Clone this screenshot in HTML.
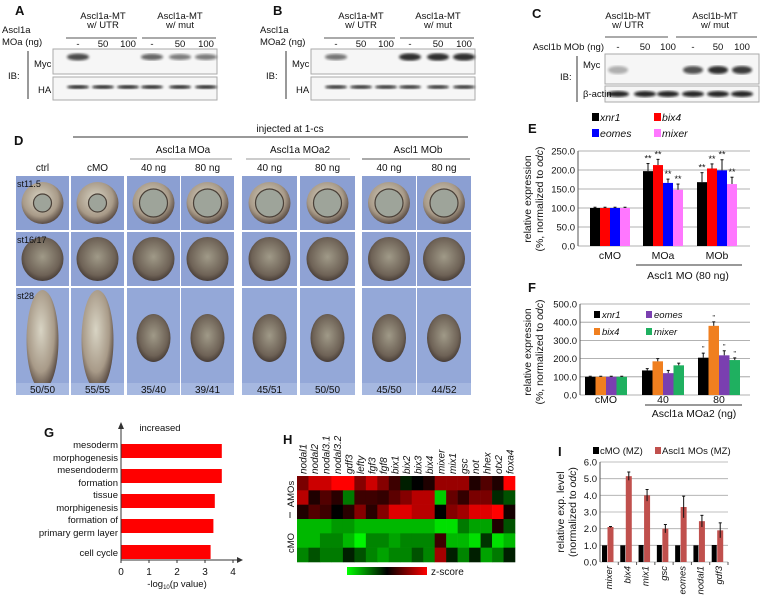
<!DOCTYPE html>
<html><head><meta charset="utf-8"><style>
body{margin:0;background:#fff;width:769px;height:596px;overflow:hidden}
svg{font-family:"Liberation Sans",sans-serif;display:block}
text{fill:#111}
</style></head><body>
<svg id="fig" width="769" height="596" viewBox="0 0 769 596" xmlns="http://www.w3.org/2000/svg">
<defs>
<radialGradient id="egg1" cx="45%" cy="40%" r="60%"><stop offset="0" stop-color="#d8d4c4"/><stop offset="0.7" stop-color="#a89a88"/><stop offset="1" stop-color="#5a4c44"/></radialGradient>
<radialGradient id="egg2" cx="50%" cy="45%" r="60%"><stop offset="0" stop-color="#a09a88"/><stop offset="0.7" stop-color="#6e6256"/><stop offset="1" stop-color="#3a302c"/></radialGradient>
<linearGradient id="zbar" x1="0" x2="1"><stop offset="0" stop-color="#00ff00"/><stop offset="0.5" stop-color="#000"/><stop offset="1" stop-color="#ff0000"/></linearGradient>
<filter id="blur"><feGaussianBlur stdDeviation="1.2"/></filter>
</defs>
<g id="blots"></g>
<g id="panelD"></g>
<g id="panelE"></g>
<g id="panelF"></g>
<g id="panelG"></g>
<g id="panelH"></g>
<g id="panelI"></g>
</svg>
<script>
// ---- data ----
const eCategories = ["cMO","MOa","MOb"];
const eXnr1 = [100,197,168];
const eBix4 = [100,213,204];
const eEomes = [100,166,199];
const eMixer = [100,148,163];
const eErr = [[2,20,25],[2,15,12],[2,10,28],[2,15,18]];
const eTicks = [0,50,100,150,200,250];

const fCategories = ["cMO","40","80"];
const fXnr1 = [100,135,205];
const fBix4 = [100,185,380];
const fEomes = [100,120,218];
const fMixer = [100,163,192];
const fErr = [[3,10,25],[3,15,22],[3,15,25],[3,12,12]];
const fTicks = [0,100,200,300,400,500];

const gTerms = [["mesoderm","morphogenesis"],["mesendoderm","formation"],["tissue","morphigenesis"],["formation of","primary germ layer"],["cell cycle"]];
const gValues = [3.6,3.6,3.35,3.3,3.2];
const gTicks = [0,1,2,3,4];

const hGenes = ["nodal1","nodal2","nodal3.1","nodal3.2","gdf3","lefty","fgf3","fgf8","bix1","bix2","bix3","bix4","mixer","mix1","gsc","not","hhex","otx2","foxa4"];
const hRow1 = [1.2,2,2,2.5,2.5,1.3,2,1.3,0.6,-0.3,0,0.3,1.5,1.5,1.5,0.3,0.8,0.3,2.5];
const hRow2 = [1.8,0.3,0.8,0.4,-1.2,0.6,0.6,0.5,0.9,1.3,1.8,1.8,-2,1.0,0.5,1.2,1.2,-0.4,-0.8];
const hRow3 = [0.3,0.8,0.6,0,0.4,1.3,0.4,1.3,2.2,2.2,1.8,1.8,0,1.3,1.6,2.2,2.2,2.5,0.2];
const hRow4 = [-1.8,-1.8,-1.8,-1.5,-1.5,-1.8,-1.8,-1.8,-1.8,-1.8,-1.8,-1.8,-2.2,-2.2,-1.2,-1.6,-1.6,0.3,-0.8];
const hRow5 = [-1.8,-1.8,-1.3,-1.3,-1.8,-2.4,-1.3,-1.3,-1.6,-1.3,-1.3,-1.3,0.6,-1.8,-1.8,-2.2,-0.5,-2.2,-1.8];
const hRow6 = [-1.3,-0.8,-1.2,-1.2,-0.3,-0.8,-1.3,-1.6,-1.3,-1.3,-0.8,-1.3,1.6,-0.3,-1.3,-0.3,-1.6,-1.2,-0.3];

const iCategories = ["mixer","bix4","mix1","gsc","eomes","nodal1","gdf3"];
const iCmo = [1,1,1.02,1.02,1,1,1.02];
const iAmo = [2.1,5.15,4.0,2.0,3.3,2.45,1.9];
const iErr = [0.03,0.25,0.35,0.25,0.65,0.35,0.45];
const iTicks = [0,1,2,3,4,5,6];

// ---- helpers ----
const NS="http://www.w3.org/2000/svg";
function mk(parent,tag,attrs,txt){const e=document.createElementNS(NS,tag);for(const k in attrs)e.setAttribute(k,attrs[k]);if(txt!==undefined)e.textContent=txt;parent.appendChild(e);return e;}
function T(p,x,y,s,size,anchor,extra){const e=mk(p,'text',Object.assign({x:x,y:y,'font-size':size||10,'text-anchor':anchor||'start'},extra||{}),s);return e;}
function L(p,x1,y1,x2,y2,c,w){const e=mk(p,'line',{x1:x1,y1:y1,x2:x2,y2:y2,stroke:c||'#333','stroke-width':w||1});return e;}
function R(p,x,y,w,h,f,extra){const e=mk(p,'rect',Object.assign({x:x,y:y,width:w,height:h,fill:f},extra||{}));return e;}

// ---- blots ----
(function(){
 const g=document.getElementById('blots');
 function blot(ox,letter,hdr1,moLabel,mycI,haI,lanes){
  T(g,ox+15,15,letter,13,'start',{'font-weight':'bold'});
  T(g,ox+103,19,hdr1+'-MT',9.5,'middle');T(g,ox+103,28,'w/ UTR',9.5,'middle');
  T(g,ox+180,19,hdr1+'-MT',9.5,'middle');T(g,ox+180,28,'w/ mut',9.5,'middle');
  L(g,ox+66,38,ox+137,38,'#555');L(g,ox+142,38,ox+216,38,'#555');
  moLabel.forEach((s,i)=>T(g,ox+2,33+i*12,s,9.5));
  ['-','50','100','-','50','100'].forEach((s,i)=>T(g,ox+lanes[i],47,s,9.5,'middle'));
  const b1=R(g,ox+53,49,164,25,'#f6f6f6',{stroke:'#aaa'});
  const b2=R(g,ox+53,77,164,23,'#f6f6f6',{stroke:'#aaa'});
  T(g,ox+34,67,'Myc',9.5);T(g,ox+38,93,'HA',9.5);T(g,ox+8,79,'IB:',9.5);L(g,ox+28,51,ox+28,99,'#333');
  lanes.forEach((lx,i)=>{
   if(mycI[i]>0){const e=mk(g,'ellipse',{cx:ox+lx,cy:57,rx:11,ry:2.5+mycI[i]*1.2,fill:'#111',opacity:0.25+0.6*mycI[i],filter:'url(#blur)'});}
   const h=mk(g,'ellipse',{cx:ox+lx,cy:87,rx:11,ry:1.8,fill:'#111',opacity:haI,filter:'url(#blur)'});
  });
 }
 blot(0,'A','Ascl1a',['Ascl1a','MOa (ng)'],[0.8,0,0,0.6,0.45,0.45],0.95,[78,103,128,152,180,206]);
 blot(258,'B','Ascl1a',['Ascl1a','MOa2 (ng)'],[0.5,0,0,1,1,1],0.9,[78,103,128,152,180,206]);
 // C
 T(g,532,18,'C',13,'start',{'font-weight':'bold'});
 T(g,628,19,'Ascl1b-MT',9.5,'middle');T(g,628,28,'w/ UTR',9.5,'middle');
 T(g,715,19,'Ascl1b-MT',9.5,'middle');T(g,715,28,'w/ mut',9.5,'middle');
 L(g,605,37,668,37,'#555');L(g,676,37,757,37,'#555');
 T(g,604,50,'Ascl1b MOb (ng)',9.5,'end');
 const cl=[618,645,668,693,718,742];
 ['-','50','100','-','50','100'].forEach((s,i)=>T(g,cl[i],50,s,9.5,'middle'));
 const c1=R(g,605,54,154,30,'#f6f6f6',{stroke:'#aaa'});
 const c2=R(g,605,86,154,16,'#f6f6f6',{stroke:'#aaa'});
 T(g,583,68,'Myc',9.5);T(g,583,97,'β-actin',9.5);T(g,560,80,'IB:',9.5);L(g,577,56,577,102,'#333');
 [0.3,0,0,0.7,0.85,0.8].forEach((v,i)=>{if(v>0){const e=mk(g,'ellipse',{cx:cl[i],cy:70,rx:10,ry:4,fill:'#111',opacity:v,filter:'url(#blur)'});}
  const a=mk(g,'ellipse',{cx:cl[i],cy:94,rx:11,ry:3,fill:'#111',opacity:0.9,filter:'url(#blur)'});});
})();

// ---- panel D ----
(function(){
 const g=document.getElementById('panelD');
 T(g,14,145,'D',13,'start',{'font-weight':'bold'});
 T(g,290,132,'injected at 1-cs',10,'middle');L(g,73,137,468,137,'#333');
 T(g,183,153,'Ascl1a MOa',10,'middle');L(g,130,159,232,159,'#999');
 T(g,300,153,'Ascl1a MOa2',10,'middle');L(g,246,159,350,159,'#999');
 T(g,418,153,'Ascl1 MOb',10,'middle');L(g,362,159,470,159,'#555');
 const cols=[[16,53],[71,53],[127,53],[181,53],[242,55],[300,55],[362,54],[417,54]];
 const heads=['ctrl','cMO','40 ng','80 ng','40 ng','80 ng','40 ng','80 ng'];
 const counts=['50/50','55/55','35/40','39/41','45/51','50/50','45/50','44/52'];
 cols.forEach((c,i)=>{
  T(g,c[0]+c[1]/2,171,heads[i],10,'middle');
  const r1=R(g,c[0],176,c[1],54,'#8b9fd2');
  mk(g,'circle',{cx:c[0]+c[1]/2,cy:203,r:21,fill:'url(#egg1)'});
  mk(g,'circle',{cx:c[0]+c[1]/2,cy:203,r:i<2?9:14,fill:'#9ea49a',stroke:'#4a4038','stroke-width':1.2});
  const r2=R(g,c[0],232,c[1],54,'#8fa2d4');
  mk(g,'ellipse',{cx:c[0]+c[1]/2,cy:259,rx:21,ry:22,fill:'url(#egg2)'});
  const r3=R(g,c[0],288,c[1],106,'#94a8d8');
  if(i<2) mk(g,'ellipse',{cx:c[0]+c[1]/2,cy:340,rx:16,ry:50,fill:'url(#egg1)'});
  else mk(g,'ellipse',{cx:c[0]+c[1]/2,cy:338,rx:17,ry:24,fill:'url(#egg2)'});
  R(g,c[0],383,c[1],12,'#a6b8e0');
  T(g,c[0]+c[1]/2,393,counts[i],10,'middle');
 });
 T(g,17,187,'st11.5',9);T(g,17,243,'st16/17',9);T(g,17,299,'st28',9);
})();

// ---- grouped bar chart helper ----
function grouped(gid,x0,x1,yTop,yBot,maxV,ticks,cats,series,colors,errs,groupX,bw,stars,starGroups,labOff,tickFmt){
 const g=document.getElementById(gid);
 const y=v=>yBot-(v/maxV)*(yBot-yTop);
 ticks.forEach(t=>{L(g,x0,y(t),x1,y(t),'#999',0.8);T(g,x0-3,y(t)+3.5,tickFmt(t),9.5,'end');});
 L(g,x0,yTop,x0,yBot,'#555');
 cats.forEach((c,ci)=>{
  series.forEach((s,si)=>{
   const bx=groupX[ci]+si*bw;
   const r=R(g,bx,y(s[ci]),bw,yBot-y(s[ci]),colors[si]);
   
   
   const e=errs[si][ci];
   L(g,bx+bw/2,y(s[ci]+e),bx+bw/2,y(s[ci]),'#111',1);
   L(g,bx+bw/2-1.5,y(s[ci]+e),bx+bw/2+1.5,y(s[ci]+e),'#111',1);
   if(stars&&starGroups.indexOf(ci)>=0) T(g,bx+bw/2,y(s[ci]+e)-2,stars,stars=='**'?9:7,'middle');
  });
  T(g,groupX[ci]+bw*2,yBot+labOff,c,10.5,'middle');
 });
 return y;
}

// E
(function(){
 const g=document.getElementById('panelE');
 T(g,528,133,'E',13,'start',{'font-weight':'bold'});
 [['xnr1','#000',600,121],['bix4','#f00',662,121],['eomes','#00f',600,137],['mixer','#f7f',662,137]].forEach(l=>{R(g,l[2]-8,l[3]-8,7,8,l[1]);T(g,l[2],l[3],l[0],10.5,'start',{'font-style':'italic'});});
 grouped('panelE',578,750,151,246,250,eTicks,eCategories,[eXnr1,eBix4,eEomes,eMixer],['#000','#f00','#00f','#f7f'],eErr,[590,643,697],10,'**',[1,2],13,t=>t.toFixed(1));
 L(g,636,265,742,265,'#333');T(g,688,279,'Ascl1 MO (80 ng)',10.5,'middle');
 T(g,0,0,'relative expression',10.5,'middle',{transform:'translate(531,199) rotate(-90)'});
 const t2=T(g,0,0,'',10.5,'middle',{transform:'translate(543,199) rotate(-90)'});t2.innerHTML='(%, normalized to <tspan font-style="italic">odc</tspan>)';
})();
// F
(function(){
 const g=document.getElementById('panelF');
 T(g,528,292,'F',13,'start',{'font-weight':'bold'});
 grouped('panelF',580,750,304,395,500,fTicks,fCategories,[fXnr1,fBix4,fEomes,fMixer],['#000','#f07f1f','#7a3fb0','#1fb060'],fErr,[585,642,698],10.5,'"',[2],8,t=>t.toFixed(1));
 [['xnr1','#000',602,318],['bix4','#f07f1f',602,335],['eomes','#7a3fb0',654,318],['mixer','#1fb060',654,335]].forEach(l=>{R(g,l[2]-8,l[3]-7,6,7,l[1]);T(g,l[2],l[3],l[0],9.5,'start',{'font-style':'italic'});});
 L(g,645,405,742,405,'#333');T(g,694,417,'Ascl1a MOa2 (ng)',10.5,'middle');
 T(g,0,0,'relative expression',10.5,'middle',{transform:'translate(531,352) rotate(-90)'});
 const t2=T(g,0,0,'',10.5,'middle',{transform:'translate(543,352) rotate(-90)'});t2.innerHTML='(%, normalized to <tspan font-style="italic">odc</tspan>)';
})();
// G
(function(){
 const g=document.getElementById('panelG');
 T(g,44,437,'G',13,'start',{'font-weight':'bold'});
 T(g,160,431,'increased',9.5,'middle');
 const x=v=>121+v*28;
 const cy=[451,476,501,526,552];
 gValues.forEach((v,i)=>{
  const r=R(g,x(0),cy[i]-7,x(v)-x(0),14,'#f00');
  
  
  const lines=gTerms[i];
  lines.forEach((s,j)=>T(g,118,cy[i]+(lines.length==1?4:-3+j*13),s,9.5,'end'));
 });
 L(g,121,560,121,426,'#333');mk(g,'path',{d:'M118,429 L121,422 L124,429Z',fill:'#333'});
 L(g,121,560,240,560,'#333');mk(g,'path',{d:'M237,557 L243,560 L237,563Z',fill:'#333'});
 gTicks.forEach(t=>{L(g,x(t),560,x(t),563,'#333');T(g,x(t),575,String(t),10,'middle');});
 const lab=T(g,177,587,'',9.5,'middle');lab.innerHTML='-log<tspan font-size="6" dy="2">10</tspan><tspan dy="-2">(p value)</tspan>';
})();
// H
(function(){
 const g=document.getElementById('panelH');
 T(g,283,444,'H',13,'start',{'font-weight':'bold'});
 const x0=297,cw=(515-297)/19,y0=476,rh=(562-476)/6;
 const col=z=>{const a=Math.min(1,Math.abs(z)/2.5);const c=Math.round(a*255);return z>=0?`rgb(${c},0,0)`:`rgb(0,${c},0)`;};
 [hRow1,hRow2,hRow3,hRow4,hRow5,hRow6].forEach((row,ri)=>row.forEach((z,ci)=>{
  const r=R(g,x0+ci*cw,y0+ri*rh,cw+0.3,rh+0.3,col(z));
  
  
 }));
 hGenes.forEach((s,i)=>T(g,0,0,s,10,'start',{'font-style':'italic',transform:`translate(${x0+i*cw+cw/2+4},474) rotate(-90)`}));
 T(g,0,0,'AMOs',9.5,'middle',{transform:'translate(294,494) rotate(-90)'});
 T(g,0,0,'cMO',9.5,'middle',{transform:'translate(294,543) rotate(-90)'});
 L(g,290,512,290,518,'#333');
 const zb=R(g,347,567,80,8,'url(#zbar)');
 T(g,431,575,'z-score',10);
})();
// I
(function(){
 const g=document.getElementById('panelI');
 T(g,558,456,'I',13,'start',{'font-weight':'bold'});
 R(g,593,447,6,7,'#000');T(g,600,454,'cMO (MZ)',9.5);
 R(g,655,447,6,7,'#c0504d');T(g,662,454,'Ascl1 MOs (MZ)',9.5);
 const x0=600,x1=728,yTop=462,yBot=562;
 const y=v=>yBot-v/6*(yBot-yTop);
 iTicks.forEach(t=>{L(g,x0,y(t),x1,y(t),'#aaa',0.8);T(g,x0-3,y(t)+3.5,t.toFixed(1),9.5,'end');});
 L(g,x0,yTop,x0,yBot,'#555');
 const cw=(x1-x0)/7;
 iCategories.forEach((c,i)=>{
  const cx=x0+i*cw;
  const b=R(g,cx+2,y(iCmo[i]),5,yBot-y(iCmo[i]),'#000');
  
  
  const a=R(g,cx+7.5,y(iAmo[i]),6,yBot-y(iAmo[i]),'#c0504d');
  
  
  L(g,cx+10.5,y(iAmo[i]+iErr[i]),cx+10.5,y(iAmo[i]-iErr[i]),'#111');
  L(g,cx+9,y(iAmo[i]+iErr[i]),cx+12,y(iAmo[i]+iErr[i]),'#111');
  L(g,cx+cw,yBot,cx+cw,yBot+3,'#555');
  T(g,0,0,c,9.5,'end',{'font-style':'italic',transform:`translate(${cx+cw/2+3},566) rotate(-90)`});
 });
 T(g,0,0,'relative exp. level',10.5,'middle',{transform:'translate(564,512) rotate(-90)'});
 const t2=T(g,0,0,'',10.5,'middle',{transform:'translate(576,512) rotate(-90)'});t2.innerHTML='(normalized to <tspan font-style="italic">odc</tspan>)';
})();
</script>
</body></html>
